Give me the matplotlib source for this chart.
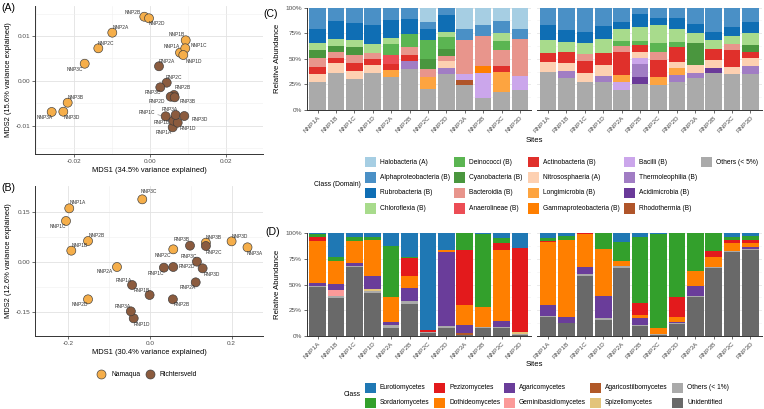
import matplotlib
matplotlib.use('Agg')
import matplotlib.pyplot as plt
from matplotlib.patches import Rectangle
import numpy as np

plt.rcParams['font.family'] = ['Liberation Sans', 'DejaVu Sans']

# ---------------- data: NMDS ordinations ----------------
mds_a_sites = ['NNP1A', 'NNP1B', 'NNP1C', 'NNP1D', 'NNP2A', 'NNP2B', 'NNP2C', 'NNP2D',
               'NNP3A', 'NNP3B', 'NNP3C', 'NNP3D',
               'RNP1A', 'RNP1B', 'RNP1C', 'RNP1D', 'RNP2A', 'RNP2B', 'RNP2C', 'RNP2D',
               'RNP3A', 'RNP3B', 'RNP3C', 'RNP3D']
mds_a_x = [0.00782, 0.00932, 0.00921, 0.00868, -0.01000, -0.00158, -0.01368, -0.00034,
           -0.02595, -0.02174, -0.01726, -0.02289,
           0.00589, 0.00605, 0.00405, 0.00721, 0.00229, 0.00624, 0.00432, 0.00537,
           0.00668, 0.00642, 0.00263, 0.00895]
mds_a_y = [0.00629, 0.00905, 0.00727, 0.00577, 0.01075, 0.01431, 0.00727, 0.01396,
           -0.00693, -0.00486, 0.00383, -0.00687,
           -0.01035, -0.00887, -0.00789, -0.00932, 0.00326, -0.00314, -0.00040, -0.00352,
           -0.00760, -0.00366, -0.00143, -0.00783]

mds_b_sites = ['NNP1A', 'NNP1B', 'NNP1C', 'NNP2A', 'NNP2B', 'NNP2C', 'NNP2D',
               'NNP3A', 'NNP3B', 'NNP3C', 'NNP3D',
               'RNP1A', 'RNP1B', 'RNP1C', 'RNP1D', 'RNP2A', 'RNP2B', 'RNP2C', 'RNP2D',
               'RNP3A', 'RNP3B', 'RNP3C', 'RNP3D']
mds_b_x = [-0.198, -0.193, -0.206, -0.081, -0.152, 0.057, -0.152,
           0.239, 0.137, -0.019, 0.200,
           -0.044, -0.001, 0.034, -0.040, 0.112, 0.056, 0.137, 0.057,
           -0.047, 0.098, 0.115, 0.129]
mds_b_y = [0.161, 0.034, 0.123, -0.015, 0.063, 0.038, -0.112,
           0.044, 0.058, 0.188, 0.062,
           -0.069, -0.099, -0.017, -0.169, -0.061, -0.112, 0.048, -0.015,
           -0.148, 0.049, 0.001, -0.019]

park_names = ['Namaqua', 'Richtersveld']

# ---------------- data: bacterial classes (%) ----------------
sites_nnp = ['NNP1A', 'NNP1B', 'NNP1C', 'NNP1D', 'NNP2A', 'NNP2B', 'NNP2C', 'NNP2D',
             'NNP3A', 'NNP3B', 'NNP3C', 'NNP3D']
sites_rnp = ['RNP1A', 'RNP1B', 'RNP1C', 'RNP1D', 'RNP2A', 'RNP2B', 'RNP2C', 'RNP2D',
             'RNP3A', 'RNP3B', 'RNP3C', 'RNP3D']

halobacteria = [0, 0, 0, 0, 0, 0, 14, 0, 21.4, 17.2, 13, 20.5,
                0, 0, 0, 0, 0, 0, 0, 0, 0, 0, 0, 0]
alphaproteobacteria = [20.5, 13, 15.6, 17.2, 12.3, 11.4, 7.1, 7.5, 10.4, 10.7, 12.3, 10.7,
                       17.2, 22.1, 23.7, 18.2, 14, 6.5, 10.7, 10.7, 16.2, 23.7, 18.8, 14]
rubrobacteria = [13.9, 18.2, 16.2, 18.5, 17.9, 14.6, 10.7, 16.9, 0, 0, 0, 0,
                 14.6, 11.4, 11.4, 13, 7.4, 12.3, 6.5, 9.8, 9.1, 8.1, 9.1, 11.3]
chloroflexia = [7.2, 6.5, 6.5, 8.5, 5.8, 0, 0, 4.8, 0, 0, 7.5, 0,
                13, 9.7, 10.7, 13, 11.1, 13.7, 17.2, 12.9, 9.8, 8.8, 7.8, 11.4]
deinococci = [0, 0, 0, 0, 10.4, 12.3, 18.8, 11.7, 0, 0, 8.8, 0,
              0, 0, 0, 0, 5.2, 4.2, 8.8, 4.9, 0, 0, 0, 0]
cyanobacteria = [8.1, 5.5, 8.1, 0, 0, 0, 9.5, 6.2, 0, 0, 0, 0,
                 0, 0, 0, 0, 0, 0, 0, 0, 21.1, 0, 0, 6.5]
bacteroidia = [8.1, 5.8, 8.1, 5.8, 0, 8.1, 7.4, 5.2, 33.1, 29.2, 15.5, 35.4,
               0, 0, 6.1, 0, 6.1, 0, 8.1, 0, 0, 0, 5.9, 0]
anaerolineae = [0, 0, 0, 0, 8.8, 0, 0, 0, 0, 0, 0, 0,
                0, 0, 0, 0, 0, 0, 0, 0, 0, 0, 0, 0]
actinobacteria = [7.5, 5.5, 7.5, 6.5, 5.8, 5.9, 0, 0, 0, 0, 5.9, 0,
                  8.1, 11.4, 12.4, 12, 22.1, 7.1, 16.9, 14.6, 0, 10.7, 16.2, 5.8]
nitrososphaeria = [7.1, 9.1, 8.1, 7.1, 0, 0, 0, 6.5, 0, 0, 0, 0,
                   9.8, 7.5, 8.1, 10.4, 0, 5.9, 0, 6.5, 7.4, 7.5, 7.1, 8.1]
longimicrobia = [0, 0, 0, 0, 6.5, 0, 12.4, 0, 0, 0, 19.1, 0,
                 0, 0, 0, 0, 7.2, 0, 7.4, 6.5, 0, 0, 0, 0]
gammaproteobacteria = [0, 0, 0, 0, 0, 0, 0, 0, 0, 7.2, 0, 0,
                       0, 0, 0, 0, 0, 0, 0, 0, 0, 0, 0, 0]
bacilli = [0, 0, 0, 0, 0, 0, 0, 0, 5.9, 23.7, 0, 13.9,
           0, 0, 0, 0, 7.4, 5.5, 0, 0, 0, 0, 0, 0]
thermoleophilia = [0, 0, 0, 0, 0, 7.4, 0, 6.5, 0, 0, 0, 0,
                   0, 7.2, 0, 5.8, 0, 13, 0, 7.2, 4.9, 0, 0, 7.8]
acidimicrobia = [0, 0, 0, 0, 0, 0, 0, 0, 0, 0, 0, 0,
                 0, 0, 0, 0, 0, 6.5, 0, 0, 0, 5.5, 0, 0]
rhodothermia = [0, 0, 0, 0, 0, 0, 0, 0, 5.2, 0, 0, 0,
                0, 0, 0, 0, 0, 0, 0, 0, 0, 0, 0, 0]
others_bact = [27.6, 36.4, 29.9, 36.4, 32.5, 40.3, 20.1, 35.1, 24, 12, 17.9, 19.5,
               37.3, 30.8, 27.6, 27.6, 19.5, 25.3, 24.4, 26.9, 31.5, 35.7, 35.1, 35.1]

# ---------------- data: fungal classes (%) ----------------
eurotiomycetes = [1, 23.7, 3.2, 3.2, 12, 22.7, 94.2, 16.2, 0, 1, 4.9, 14,
                  4.9, 2.6, 0, 0, 8.1, 3.9, 0.6, 0, 0, 0, 3.2, 2.6]
sordariomycetes = [2.3, 3.9, 4.3, 3.3, 49.7, 1.7, 0, 0, 16.2, 70.5, 4.8, 0,
                   2.2, 3.9, 0, 15.6, 18.8, 64.3, 91.3, 61.7, 36.7, 17.2, 3.3, 3.9]
pezizomycetes = [3.9, 0, 0, 0, 0, 17.2, 1.6, 0, 53.8, 0, 6.5, 81.8,
                 1.7, 0, 1.0, 0, 0, 11.3, 0, 19.5, 0, 5.5, 2.6, 2.6]
dothideomycetes = [41, 22.7, 21.7, 35.1, 24.3, 11.3, 0, 1.7, 19.5, 19.4, 68.9, 0,
                   61, 74.7, 31.5, 45.4, 4.9, 2.6, 6.2, 4.8, 14.3, 9.8, 8.1, 4.5]
agaricomycetes = [2.9, 5.6, 2.3, 12.9, 3.3, 13, 0, 72, 7.9, 0, 5.8, 0,
                  10.4, 6.5, 7.1, 21.8, 0, 7.2, 0, 1.7, 9.7, 0, 0, 1.7]
geminibasidiomycetes = [0, 5.6, 0, 0, 0, 0, 0, 0, 0, 0, 0, 0,
                        0, 0, 0, 0, 0, 0, 0, 0, 0, 0, 0, 0]
agaricostilbomycetes = [0, 0, 0, 0, 0, 0, 0, 0, 1.3, 0, 0, 0,
                        0, 0, 0, 0, 0, 0, 0, 0, 0, 0, 0, 0]
spizellomycetes = [0, 0, 0, 1.7, 0, 0, 0, 0, 0, 0, 0, 1.9,
                   0, 0, 0, 0, 0, 0, 0, 0, 0, 0, 0, 0]
others_fungi = [1, 2.6, 1, 1.6, 2.6, 3.3, 1.6, 2.6, 0, 1, 1, 1.3,
                1, 0, 1.6, 1.6, 1.6, 1, 0.9, 0.6, 1, 1.6, 1.3, 0.9]
unidentified = [48.1, 37.3, 67.5, 42.2, 8.1, 30.8, 2.6, 7.5, 1.3, 8.1, 8.1, 1,
                18.8, 12.3, 58.8, 15.6, 66.6, 9.7, 1, 11.7, 38.3, 65.9, 81.5, 83.8]

# legend order (first = top of the stack)
bact_classes = [
    ('Halobacteria (A)', halobacteria, '#A6CEE3'),
    ('Alphaproteobacteria (B)', alphaproteobacteria, '#4A90C6'),
    ('Rubrobacteria (B)', rubrobacteria, '#0F6EB4'),
    ('Chloroflexia (B)', chloroflexia, '#A8DB8C'),
    ('Deinococci (B)', deinococci, '#5BB552'),
    ('Cyanobacteria (B)', cyanobacteria, '#4A963E'),
    ('Bacteroidia (B)', bacteroidia, '#E8958C'),
    ('Anaerolineae (B)', anaerolineae, '#EC4D55'),
    ('Actinobacteria (B)', actinobacteria, '#E0302B'),
    ('Nitrososphaeria (A)', nitrososphaeria, '#FDD0B1'),
    ('Longimicrobia (B)', longimicrobia, '#FDA440'),
    ('Gammaproteobacteria (B)', gammaproteobacteria, '#FF7F00'),
    ('Bacilli (B)', bacilli, '#CBA6EB'),
    ('Thermoleophilia (B)', thermoleophilia, '#A17DC4'),
    ('Acidimicrobia (B)', acidimicrobia, '#6A3A99'),
    ('Rhodothermia (B)', rhodothermia, '#B0552A'),
    ('Others (< 5%)', others_bact, '#AAAAAA'),
]
fungi_classes = [
    ('Eurotiomycetes', eurotiomycetes, '#1F78B4'),
    ('Sordariomycetes', sordariomycetes, '#33A02C'),
    ('Pezizomycetes', pezizomycetes, '#E31A1C'),
    ('Dothideomycetes', dothideomycetes, '#FF7F00'),
    ('Agaricomycetes', agaricomycetes, '#6A3D9A'),
    ('Geminibasidiomycetes', geminibasidiomycetes, '#FB9A99'),
    ('Agaricostilbomycetes', agaricostilbomycetes, '#B15928'),
    ('Spizellomycetes', spizellomycetes, '#E3C47B'),
    ('Others (< 1%)', others_fungi, '#AAAAAA'),
    ('Unidentified', unidentified, '#696969'),
]

# ---------------- layout helpers ----------------
W, H = 764, 409
fig = plt.figure(figsize=(W / 100, H / 100), dpi=100)


def px_axes(l, t, r, b):
    return fig.add_axes([l / W, 1 - b / H, (r - l) / W, (b - t) / H])


TICK_C = '#4D4D4D'
AX_C = '#333333'
GRID_MAJ = '#E2E2E2'
GRID_MIN = '#F0F0F0'
PARK_COL = {'Namaqua': '#F5AE4A', 'Richtersveld': '#8B5B3E'}


def style_axes(ax, left=True):
    for s in ['top', 'right']:
        ax.spines[s].set_visible(False)
    ax.spines['bottom'].set_color(AX_C)
    ax.spines['bottom'].set_linewidth(0.7)
    if left:
        ax.spines['left'].set_color(AX_C)
        ax.spines['left'].set_linewidth(0.7)
    else:
        ax.spines['left'].set_visible(False)
    ax.tick_params(axis='both', which='major', length=2, width=0.5, color=AX_C,
                   labelsize=4.6, labelcolor=TICK_C, pad=1.5)
    ax.tick_params(axis='both', which='minor', length=0)
    ax.set_axisbelow(True)


# label offsets (pixels, screen coords: +x right, +y down)
lab_off_a = {
    'NNP2B': (-11.6, -4.4), 'NNP2D': (7.7, 5.7), 'NNP2A': (8.4, -4.7), 'NNP2C': (7.7, -4.6),
    'NNP3C': (-9.7, 6), 'NNP3B': (8.3, -4.7), 'NNP3A': (-7.4, 5.3), 'NNP3D': (8.7, 5.6),
    'NNP1B': (-9, -5.6), 'NNP1C': (13.4, -2.3), 'NNP1A': (-8.3, -6), 'NNP1D': (10.7, 6),
    'RNP2A': (7.7, -5), 'RNP2C': (7.3, -4.7), 'RNP3C': (-7.6, 4.7), 'RNP2B': (8.7, -7),
    'RNP2D': (-14, 5), 'RNP3B': (12.6, 4), 'RNP1C': (-19, -3.6), 'RNP3A': (-6, -5),
    'RNP3D': (15.7, 3), 'RNP1B': (-11.6, 1.6), 'RNP1D': (10.6, 5.6), 'RNP1A': (-9.4, 5.4),
}
lab_off_b = {
    'NNP3C': (7, -8), 'NNP1A': (8.4, -5.6), 'NNP1C': (-8, 5.7), 'NNP2B': (8.7, -5.3),
    'NNP1B': (8, -4.7), 'NNP2A': (-12.7, 4.3), 'NNP2D': (-8, 5), 'NNP2C': (-10, 5.7),
    'NNP3B': (7.6, -5.4), 'NNP3D': (8, -5), 'NNP3A': (6.7, 5.7),
    'RNP3B': (-8.3, -5.7), 'RNP2C': (7.6, 6.3), 'RNP3C': (-8.4, -5), 'RNP1C': (-7.7, 5.6),
    'RNP2D': (13.4, 0), 'RNP3D': (9, 5.7), 'RNP2A': (-8.4, 5.4), 'RNP1A': (-8, -5),
    'RNP1B': (-8, -4.7), 'RNP2B': (8.7, 5), 'RNP3A': (-8.3, -5.3), 'RNP1D': (8, 5.7),
}


def draw_mds(ax, sites, xs, ys, offs):
    cols = [PARK_COL['Namaqua'] if s.startswith('N') else PARK_COL['Richtersveld'] for s in sites]
    ax.scatter(xs, ys, s=42, c=cols, edgecolors='#3A3A3A', linewidths=0.45, zorder=3)
    for s, x, y in zip(sites, xs, ys):
        dx, dy = offs.get(s, (8, -5))
        ax.annotate(s, (x, y), xytext=(dx, -dy), textcoords='offset pixels',
                    ha='center', va='center', fontsize=3.5, color='#333333', zorder=4,
                    arrowprops=dict(arrowstyle='-', lw=0.3, color='#555555',
                                    shrinkA=0, shrinkB=3) if abs(dx) > 15 else None)


# ---------------- Panel A ----------------
axA = px_axes(35, 6, 263, 154)
style_axes(axA)
axA.set_xlim(-0.03034, 0.02966)
axA.set_ylim(-0.0163, 0.0167)
axA.set_xticks([-0.02, 0.0, 0.02])
axA.set_xticklabels(['-0.02', '0.00', '0.02'])
axA.set_yticks([-0.01, 0.0, 0.01])
axA.set_yticklabels(['-0.01', '0.00', '0.01'])
axA.set_xticks([-0.03, -0.01, 0.01], minor=True)
axA.set_yticks([-0.015, -0.005, 0.005, 0.015], minor=True)
axA.grid(True, which='major', color=GRID_MAJ, lw=0.6)
axA.grid(True, which='minor', color=GRID_MIN, lw=0.4)
axA.set_xlabel('MDS1 (34.5% variance explained)', fontsize=5.4, labelpad=2.5)
axA.set_ylabel('MDS2 (15.6% variance explained)', fontsize=5.4, labelpad=2.5)
draw_mds(axA, mds_a_sites, mds_a_x, mds_a_y, lab_off_a)

# ---------------- Panel B ----------------
axB = px_axes(35, 186, 263, 336)
style_axes(axB)
axB.set_xlim(-0.282, 0.277)
axB.set_ylim(-0.222, 0.228)
axB.set_xticks([-0.2, 0.0, 0.2])
axB.set_xticklabels(['-0.2', '0.0', '0.2'])
axB.set_yticks([-0.15, 0.0, 0.15])
axB.set_yticklabels(['-0.15', '0.00', '0.15'])
axB.set_xticks([-0.1, 0.1], minor=True)
axB.set_yticks([-0.075, 0.075], minor=True)
axB.grid(True, which='major', color=GRID_MAJ, lw=0.6)
axB.grid(True, which='minor', color=GRID_MIN, lw=0.4)
axB.set_xlabel('MDS1 (30.4% variance explained)', fontsize=5.4, labelpad=2.5)
axB.set_ylabel('MDS2 (12.6% variance explained)', fontsize=5.4, labelpad=2.5)
draw_mds(axB, mds_b_sites, mds_b_x, mds_b_y, lab_off_b)


# ---------------- stacked bars ----------------
def draw_stack(ax, classes, idx, site_labels, left_axis):
    style_axes(ax, left=left_axis)
    n = len(site_labels)
    pos = np.arange(n)
    mats = np.array([[c[1][i] for i in idx] for c in classes], dtype=float)
    tot = mats.sum(axis=0)
    mats = mats / tot * 100.0  # position = "fill"
    bottom = np.zeros(n)
    for k in range(len(classes) - 1, -1, -1):
        ax.bar(pos, mats[k], bottom=bottom, width=0.9, color=classes[k][2],
               linewidth=0, zorder=2)
        bottom += mats[k]
    ax.set_xlim(-0.6, n - 0.4)
    ax.set_ylim(0, 100)
    ax.set_xticks(pos)
    ax.set_xticklabels(site_labels, rotation=45, ha='right', va='top',
                       rotation_mode='anchor')
    ax.set_yticks([0, 25, 50, 75, 100])
    ax.set_yticks([12.5, 37.5, 62.5, 87.5], minor=True)
    ax.grid(True, axis='y', which='major', color='#E6E6E6', lw=0.6, zorder=0)
    ax.grid(True, axis='y', which='minor', color='#F0F0F0', lw=0.4, zorder=0)
    if left_axis:
        ax.set_yticklabels(['0%', '25%', '50%', '75%', '100%'])
        ax.set_ylabel('Relative Abundance', fontsize=5.6, labelpad=3)
    else:
        ax.tick_params(axis='y', which='both', left=False, labelleft=False)


idx_n = list(range(12))
idx_r = list(range(12, 24))

axC1 = px_axes(306.5, 7.5, 531, 110)
draw_stack(axC1, bact_classes, idx_n, sites_nnp, True)
axC2 = px_axes(537, 7.5, 761.5, 110)
draw_stack(axC2, bact_classes, idx_r, sites_rnp, False)

axD1 = px_axes(306.5, 233.3, 531, 336)
draw_stack(axD1, fungi_classes, idx_n, sites_nnp, True)
axD2 = px_axes(537, 233.3, 761.5, 336)
draw_stack(axD2, fungi_classes, idx_r, sites_rnp, False)

# ---------------- overlay: tags, titles, legends ----------------
ov = fig.add_axes([0, 0, 1, 1])
ov.set_xlim(0, W)
ov.set_ylim(H, 0)
ov.axis('off')
ov.patch.set_visible(False)

for txt, x, y in [('(A)', 8, 8), ('(B)', 8, 188), ('(C)', 271, 14), ('(D)', 273, 232)]:
    ov.text(x, y, txt, fontsize=7.6, ha='center', va='center', color='black')

ov.text(534, 140, 'Sites', fontsize=5.6, ha='center', va='center')
ov.text(534, 365, 'Sites', fontsize=5.6, ha='center', va='center')

# park legend
for name, cx in [('Namaqua', 101), ('Richtersveld', 150)]:
    ov.scatter([cx], [374.3], s=42, c=PARK_COL[name], edgecolors='#3A3A3A', linewidths=0.45)
    ov.text(cx + 10, 374.3, name, fontsize=4.9, ha='left', va='center')


def draw_legend(classes, title, title_xy, col_lefts, row_ys, nrow):
    ov.text(title_xy[0], title_xy[1], title, fontsize=4.9, ha='right', va='center')
    for i, (name, _, col) in enumerate(classes):
        c, r = divmod(i, nrow)
        x0 = col_lefts[c]
        y0 = row_ys[r]
        ov.add_patch(Rectangle((x0, y0 - 5.2), 11, 10.4, facecolor=col, edgecolor='none'))
        ov.text(x0 + 15, y0, name, fontsize=4.8, ha='left', va='center')


draw_legend(bact_classes, 'Class (Domain)', (361, 185),
            [365, 454, 528, 624, 701], [162, 177.5, 193, 208.3], 4)
draw_legend(fungi_classes, 'Class', (361, 395),
            [365, 434, 504, 590, 672], [387.7, 403], 2)

fig.savefig('out.png', dpi=100)
